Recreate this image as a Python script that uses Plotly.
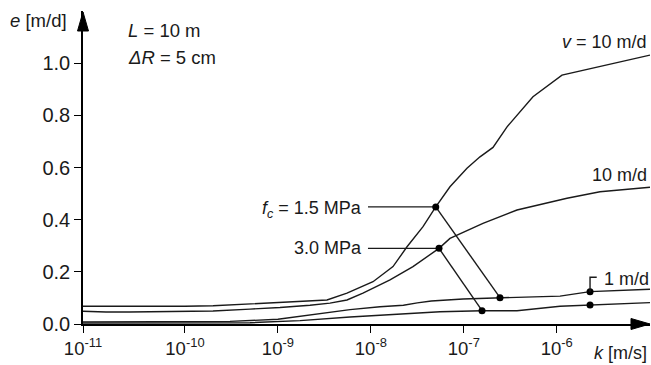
import plotly.graph_objects as go

# ---------------- data ----------------
# log10(k [m/s]) and e [m/d]
logk_A = [-11.097, -10.6, -10.0, -9.698, -9.3, -8.978, -8.655, -8.472, -8.257, -7.977,
          -7.762, -7.611, -7.439, -7.302, -7.149, -6.966, -6.826, -6.686, -6.535, -6.256,
          -5.944, -4.997]
e_A = [0.068, 0.067, 0.068, 0.070, 0.077, 0.083, 0.088, 0.092, 0.118, 0.162,
       0.220, 0.296, 0.373, 0.449, 0.526, 0.597, 0.641, 0.677, 0.756, 0.871,
       0.954, 1.031]

logk_B = [-11.097, -10.85, -10.6, -10.0, -9.698, -9.3, -8.978, -8.655, -8.44, -8.257,
          -8.085, -7.794, -7.547, -7.267, -7.149, -6.794, -6.428, -5.890, -5.535, -4.997]
e_B = [0.049, 0.046, 0.046, 0.048, 0.050, 0.057, 0.063, 0.072, 0.080, 0.092,
       0.118, 0.169, 0.220, 0.290, 0.328, 0.386, 0.437, 0.482, 0.507, 0.524]

logk_C = [-11.097, -10.0, -9.516, -9.0, -8.762, -8.44, -8.224, -7.902, -7.65, -7.50,
          -7.35, -7.009, -6.611, -5.965, -5.642, -4.997]
e_C = [0.008, 0.008, 0.010, 0.018, 0.030, 0.045, 0.055, 0.066, 0.072, 0.081,
       0.088, 0.096, 0.101, 0.107, 0.124, 0.133]

logk_D = [-11.097, -10.0, -9.3, -8.762, -8.224, -7.579, -7.256, -6.804, -6.428, -5.965,
          -5.642, -4.997]
e_D = [0.004, 0.004, 0.005, 0.013, 0.027, 0.040, 0.047, 0.051, 0.051, 0.068,
       0.073, 0.082]

# marked points
fc15_logk = [-7.302, -6.611]
fc15_e = [0.449, 0.101]
fc30_logk = [-7.267, -6.804]
fc30_e = [0.290, 0.051]
v1_logk = [-5.642, -5.642]
v1_e = [0.124, 0.073]
label_line_logk = -8.031
bracket_top_e = 0.179
bracket_end_logk = -5.57

xtick_logk = [-11.097, -10, -9, -8, -7, -6]
xtick_text = ["10<sup>-11</sup>", "10<sup>-10</sup>", "10<sup>-9</sup>",
              "10<sup>-8</sup>", "10<sup>-7</sup>", "10<sup>-6</sup>"]
ytick_vals = [0.0, 0.2, 0.4, 0.6, 0.8, 1.0]

# ---------------- figure ----------------
W, H = 651, 365
ML, MR, MT, MB = 83, 1, 11, 41
PW, PH = W - ML - MR, H - MT - MB
XR = [-11.097, -11.097 + PW / 92.95]
YR = [0.0, 1.2]


def K(lst):
    return [10 ** v for v in lst]


def xp(px):
    return (px - ML) / PW


def yp(py):
    return (H - MB - py) / PH


INK = "#1a1a1a"
FONT = "Liberation Sans, Arial, Helvetica, sans-serif"
FS = 18

fig = go.Figure()
for lk, e in [(logk_A, e_A), (logk_B, e_B), (logk_C, e_C), (logk_D, e_D)]:
    fig.add_trace(go.Scatter(x=K(lk), y=e, mode="lines",
                             line=dict(color=INK, width=1.4), showlegend=False,
                             hoverinfo="skip"))

# label connectors + diagonal connectors
fig.add_trace(go.Scatter(x=K([label_line_logk, fc15_logk[0]]), y=[fc15_e[0], fc15_e[0]],
                         mode="lines", line=dict(color=INK, width=1.4), showlegend=False))
fig.add_trace(go.Scatter(x=K([label_line_logk, fc30_logk[0]]), y=[fc30_e[0], fc30_e[0]],
                         mode="lines", line=dict(color=INK, width=1.4), showlegend=False))
fig.add_trace(go.Scatter(x=K(fc15_logk), y=fc15_e, mode="lines+markers",
                         line=dict(color=INK, width=1.4),
                         marker=dict(color="black", size=7), showlegend=False))
fig.add_trace(go.Scatter(x=K(fc30_logk), y=fc30_e, mode="lines+markers",
                         line=dict(color=INK, width=1.4),
                         marker=dict(color="black", size=7), showlegend=False))
fig.add_trace(go.Scatter(x=K(v1_logk), y=v1_e, mode="markers",
                         marker=dict(color="black", size=7), showlegend=False))
# bracket for "1 m/d"
fig.add_trace(go.Scatter(x=K([v1_logk[0], v1_logk[0], bracket_end_logk]),
                         y=[v1_e[0], bracket_top_e, bracket_top_e],
                         mode="lines", line=dict(color=INK, width=1.4), showlegend=False))

# arrowheads (paper coords)
def path(pts):
    s = "M " + " L ".join(f"{xp(a):.5f},{yp(b):.5f}" for a, b in pts) + " Z"
    return s

fig.add_shape(type="path", xref="paper", yref="paper",
              path=path([(77.5, 31), (83, 12), (88.5, 31)]),
              fillcolor="black", line=dict(color="black", width=1))
fig.add_shape(type="path", xref="paper", yref="paper",
              path=path([(631, 318.5), (650, 324), (631, 329.5)]),
              fillcolor="black", line=dict(color="black", width=1))


def ann(text, px, py, xanchor, yanchor="middle", size=FS):
    fig.add_annotation(text=text, xref="paper", yref="paper", x=xp(px), y=yp(py),
                       xanchor=xanchor, yanchor=yanchor, showarrow=False,
                       font=dict(family=FONT, size=size, color=INK))


ann("<i>e</i> [m/d]", 69, 21, "right", size=18.5)
ann("<i>L</i> = 10 m", 126, 30, "left", size=18.5)
ann("<i>ΔR</i> = 5 cm", 126, 58, "left", size=18.5)
ann("<i>v</i> = 10 m/d", 649, 42, "right")
ann("10 m/d", 649, 175, "right")
ann("<i>f<sub>c</sub></i> = 1.5 MPa", 364, 209, "right")
ann("3.0 MPa", 364, 248, "right")
ann("1 m/d", 602, 279, "left")
ann("<i>k</i> [m/s]", 649, 353, "right")

fig.update_layout(
    width=W, height=H,
    margin=dict(l=ML, r=MR, t=MT, b=MB, pad=0),
    plot_bgcolor="white", paper_bgcolor="white",
    font=dict(family=FONT, size=FS, color=INK),
    showlegend=False,
)
fig.update_xaxes(type="log", range=XR, showgrid=False, zeroline=False,
                 showline=True, linecolor="black", linewidth=1.6,
                 ticks="outside", ticklen=7, tickwidth=1.4, tickcolor="black",
                 tickvals=K(xtick_logk), ticktext=xtick_text,
                 tickfont=dict(family=FONT, size=18.5, color=INK))
fig.update_yaxes(range=YR, showgrid=False, zeroline=False,
                 showline=True, linecolor="black", linewidth=1.6,
                 ticks="outside", ticklen=7, tickwidth=1.4, tickcolor="black",
                 tickvals=ytick_vals, tickformat=".1f",
                 tickfont=dict(family=FONT, size=20, color=INK))

fig.write_html("out.html",
               config={"displayModeBar": False},
               post_script="document.body.style.margin='0px';"
                           "document.body.style.overflow='hidden';")
